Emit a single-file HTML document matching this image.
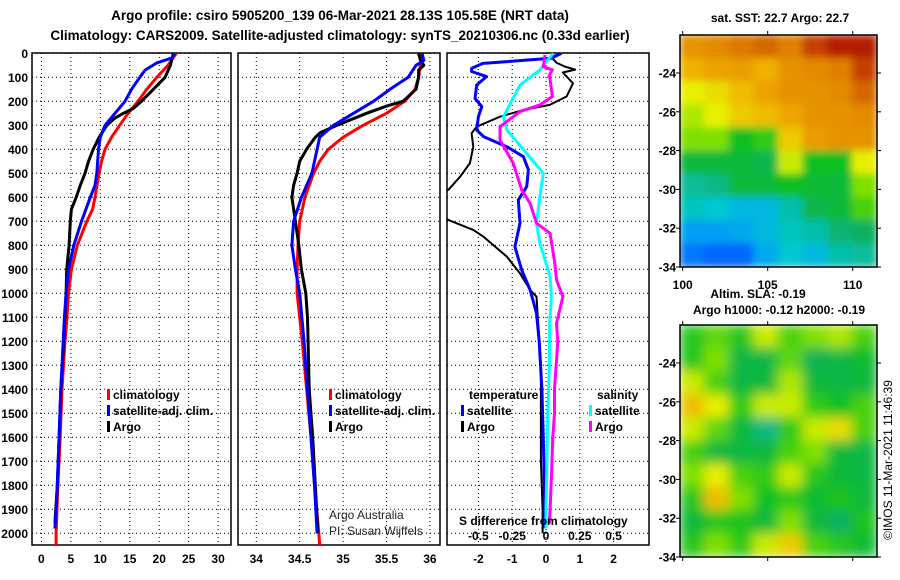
<!DOCTYPE html>
<html><head><meta charset="utf-8"><style>
html,body{margin:0;background:#fff;width:900px;height:580px;overflow:hidden}
svg{display:block;font-family:"Liberation Sans",sans-serif}
.b{font-weight:bold;font-size:12px}
</style></head><body>
<svg id="c" width="900" height="580" viewBox="0 0 900 580">
<defs>
<clipPath id="cp1"><rect x="32" y="53" width="199" height="492"/></clipPath>
<clipPath id="cp2"><rect x="238" y="53" width="202" height="492"/></clipPath>
<clipPath id="cp3"><rect x="447" y="53" width="202" height="492"/></clipPath>
<clipPath id="cm1"><rect x="680" y="35" width="197" height="232"/></clipPath>
<clipPath id="cm2"><rect x="680" y="325" width="197" height="232"/></clipPath>
<filter id="bl1" x="-10%" y="-10%" width="120%" height="120%"><feGaussianBlur stdDeviation="4" edgeMode="duplicate"/></filter>
<filter id="bl2" x="-10%" y="-10%" width="120%" height="120%"><feGaussianBlur stdDeviation="6" edgeMode="duplicate"/></filter>
</defs>
<text x="340" y="20" text-anchor="middle" font-weight="bold" font-size="13.5">Argo profile: csiro 5905200_139 06-Mar-2021 28.13S 105.58E (NRT data)</text>
<text x="340" y="40" text-anchor="middle" font-weight="bold" font-size="13.5">Climatology: CARS2009. Satellite-adjusted climatology: synTS_20210306.nc (0.33d earlier)</text>
</svg>
<script>
// ---------- data ----------
const depthTicks=[0,100,200,300,400,500,600,700,800,900,1000,1100,1200,1300,1400,1500,1600,1700,1800,1900,2000];
const tempTicks=[0,5,10,15,20,25,30];
const salTicks=[34,34.5,35,35.5,36];
const diffTicks=[-2,-1,0,1,2];
const diffTickLabels=['-2','-1','0','1','2'];
const sDiffTickLabels=['-0.5','-0.25','0','0.25','0.5'];
const tClimDepth=[0,50,100,150,200,250,300,350,400,450,500,600,650,700,800,900,1000,1100,1200,1400,1600,1800,2000,2050];
const tClim=[22.9,21.5,19.6,17.9,16.4,14.7,13.3,11.9,10.8,10.2,9.8,9.1,8.7,7.7,6.1,5.1,4.6,4.35,4.0,3.5,3.2,2.8,2.5,2.5];
const tSatDepth=[0,20,40,70,100,150,200,250,300,350,400,500,550,600,700,800,900,1000,1100,1200,1400,1600,1800,1950,1980];
const tSat=[22.7,22.1,19.6,17.6,16.7,15.3,14.2,12.5,10.8,10.0,9.7,9.4,9.1,8.3,6.8,5.5,4.6,4.2,3.9,3.7,3.3,3.0,2.7,2.4,2.3];
const tArgoDepth=[0,50,100,150,200,230,250,270,300,350,400,450,500,550,600,650,700,800,900,1000,1200,1400,1600,1800,1960];
const tArgo=[22.4,21.9,21.0,19.0,17.0,15.6,13.9,12.5,11.1,9.8,8.8,8.0,7.4,6.6,5.9,5.1,4.9,4.7,4.3,4.2,3.8,3.3,3.0,2.7,2.3];
const sClimDepth=[0,50,100,150,200,250,300,350,400,450,500,600,700,800,900,1000,1200,1400,1600,1800,2000,2050];
const sClim=[35.91,35.89,35.87,35.83,35.71,35.50,35.23,35.00,34.83,34.73,34.66,34.56,34.50,34.48,34.47,34.47,34.53,34.58,34.63,34.67,34.72,34.73];
const sSatDepth=[0,30,50,100,150,200,250,300,350,400,500,600,700,800,900,1000,1200,1400,1600,1800,2000];
const sSat=[35.91,35.93,35.84,35.75,35.54,35.35,35.12,34.89,34.73,34.70,34.64,34.52,34.43,34.41,34.45,34.50,34.55,34.59,34.63,34.67,34.70];
const sArgoDepth=[0,30,50,70,100,150,200,220,250,300,330,350,400,450,500,550,600,700,800,900,1000,1100,1400,1600,1800,2000];
const sArgo=[35.87,35.89,35.93,35.87,35.87,35.84,35.69,35.50,35.27,34.93,34.74,34.68,34.58,34.50,34.47,34.43,34.41,34.45,34.49,34.52,34.57,34.59,34.61,34.65,34.68,34.71];
const dTArgoDepth=[0,15,40,55,68,80,125,180,215,236,264,306,333,389,458,514,569,620,694,736,764,847,917,986,1014,1125,1300,1500,1700,1900,2000];
const dTArgo=[0.45,0.15,0.32,0.55,0.86,0.5,0.8,0.61,0.11,-0.67,-1.36,-2.05,-2.2,-2.15,-2.25,-2.54,-2.89,-3.6,-2.89,-2.15,-1.85,-1.16,-0.77,-0.47,-0.28,-0.23,-0.15,-0.15,-0.15,-0.1,-0.1];
const dTSatDepth=[0,21,42,63,76,97,132,188,222,264,319,347,389,431,486,556,611,708,806,903,986,1083,1200,1400,1600,1800,1980];
const dTSat=[0.46,0.15,-1.87,-2.2,-2.2,-1.76,-2.05,-2.1,-1.9,-2.0,-2.05,-1.85,-1.16,-0.67,-0.52,-0.57,-0.82,-0.77,-0.92,-0.72,-0.47,-0.28,-0.2,-0.12,-0.08,-0.05,-0.05];
const dSSatDepth=[0,21,69,132,264,319,417,500,597,708,792,931,1014,1125,1300,1500,1700,1900,1980];
const dSSat=[0.22,0.09,-0.18,-0.77,-1.26,-1.16,-0.57,-0.08,-0.18,-0.28,-0.18,0.12,0.16,0.11,0.1,0.05,0.03,0.0,0.0];
const dSArgoDepth=[7,56,69,90,180,215,243,306,361,458,569,625,708,750,875,944,1014,1125,1200,1400,1500,1600,1800,1900,1960];
const dSArgo=[-0.03,-0.08,0.19,0.1,0.19,-0.18,-0.77,-1.36,-1.36,-0.97,-0.72,-0.47,-0.28,0.12,0.26,0.31,0.5,0.31,0.35,0.25,0.25,0.2,0.15,0.12,0.1];
const latTicks=[-24,-26,-28,-30,-32,-34];
const lonTicks=[100,105,110];
const sstGrid=[
[0.78,0.8,0.83,0.85,0.82,0.9,0.95,0.95],
[0.72,0.75,0.76,0.72,0.78,0.8,0.82,0.9],
[0.62,0.65,0.7,0.75,0.78,0.78,0.8,0.85],
[0.58,0.62,0.68,0.7,0.74,0.78,0.78,0.8],
[0.55,0.55,0.45,0.48,0.68,0.76,0.78,0.78],
[0.42,0.42,0.42,0.4,0.6,0.45,0.45,0.62],
[0.35,0.36,0.42,0.42,0.45,0.43,0.42,0.55],
[0.33,0.32,0.3,0.3,0.34,0.4,0.42,0.5],
[0.27,0.27,0.28,0.3,0.33,0.34,0.37,0.38],
[0.22,0.2,0.2,0.28,0.32,0.3,0.34,0.35]];
const slaGrid=[
[0.47,0.52,0.47,0.6,0.5,0.55,0.58,0.5],
[0.47,0.55,0.41,0.41,0.52,0.39,0.41,0.43],
[0.6,0.5,0.41,0.42,0.58,0.42,0.41,0.42],
[0.7,0.62,0.48,0.6,0.6,0.48,0.45,0.5],
[0.6,0.52,0.42,0.36,0.48,0.6,0.65,0.5],
[0.5,0.42,0.41,0.42,0.5,0.55,0.42,0.41],
[0.55,0.62,0.5,0.48,0.6,0.47,0.42,0.41],
[0.47,0.7,0.55,0.45,0.48,0.43,0.46,0.42],
[0.42,0.47,0.46,0.42,0.55,0.42,0.38,0.46],
[0.47,0.55,0.48,0.6,0.68,0.5,0.47,0.43]];

// ---------- helpers ----------
const svg=document.getElementById('c');
const NS='http://www.w3.org/2000/svg';
function el(tag,attrs,parent){const e=document.createElementNS(NS,tag);for(const k in attrs)e.setAttribute(k,attrs[k]);(parent||svg).appendChild(e);return e;}
function txt(x,y,s,attrs){const e=el('text',Object.assign({x:x,y:y},attrs||{}));e.textContent=s;return e;}
const yD=d=>53.3+d*0.24;
const panels=[
 {l:32,r:231,x:v=>41.4+v*5.89,ticks:tempTicks,lab:tempTicks.map(String),clip:'cp1',name:'temperature'},
 {l:238,r:440,x:v=>256.3+(v-34)*86.8,ticks:salTicks,lab:salTicks.map(String),clip:'cp2',name:'salinity'},
 {l:447,r:649,x:v=>546+v*33.8,ticks:diffTicks,lab:diffTickLabels,clip:'cp3',name:'difference'}];
panels.forEach((p,i)=>{
 const g=el('g',{});
 
 
 depthTicks.forEach(d=>{const ln=el('line',{x1:p.l,x2:p.r,y1:yD(d),y2:yD(d),stroke:'#000','stroke-width':1,'stroke-dasharray':'1,3'},g);
  });
 p.ticks.forEach((v,k)=>{const ln=el('line',{x1:p.x(v),x2:p.x(v),y1:53,y2:545,stroke:'#000','stroke-width':1,'stroke-dasharray':'1,3'},g);
  
  const t=txt(p.x(v),563,p.lab[k],{class:'b','text-anchor':'middle'});
  });
 const r=el('rect',{x:p.l,y:53,width:p.r-p.l,height:492,fill:'none',stroke:'#000','stroke-width':1.5},g);
 
});
depthTicks.forEach(d=>{const t=txt(28,yD(d)+4.5,String(d),{class:'b','text-anchor':'end'});
 });
function line(p,depths,vals,color,w,name){
 const pts=depths.map((d,i)=>p.x(vals[i]).toFixed(1)+','+yD(d).toFixed(1)).join(' ');
 const e=el('polyline',{points:pts,fill:'none',stroke:color,'stroke-width':w,'stroke-linejoin':'round','clip-path':'url(#'+p.clip+')'});
 
 
}
line(panels[0],tClimDepth,tClim,'#f00',3,'temp-climatology-line');
line(panels[0],tArgoDepth,tArgo,'#000',3,'temp-argo-line');
line(panels[0],tSatDepth,tSat,'#00f',3,'temp-satellite-line');
line(panels[1],sClimDepth,sClim,'#f00',3,'sal-climatology-line');
line(panels[1],sArgoDepth,sArgo,'#000',3,'sal-argo-line');
line(panels[1],sSatDepth,sSat,'#00f',3,'sal-satellite-line');
line(panels[2],dTArgoDepth,dTArgo,'#000',2,'diff-temp-argo-line');
line(panels[2],dTSatDepth,dTSat,'#00f',3,'diff-temp-satellite-line');
line(panels[2],dSSatDepth,dSSat,'#0ff',3,'diff-sal-satellite-line');
line(panels[2],dSArgoDepth,dSArgo,'#f0f',3,'diff-sal-argo-line');

function legend(x,y,color,label){
 const m=el('rect',{x:x,y:y-10,width:3,height:11,fill:color});
 
 const t=txt(x+6,y,label,{class:'b'});
 
}
[[107,'#f00','climatology'],[107,'#00f','satellite-adj. clim.'],[107,'#000','Argo']].forEach((a,i)=>legend(a[0],399+i*16,a[1],a[2]));
[[329,'#f00','climatology'],[329,'#00f','satellite-adj. clim.'],[329,'#000','Argo']].forEach((a,i)=>legend(a[0],399+i*16,a[1],a[2]));
{const t=txt(469,399,'temperature',{class:'b'});}
{const t=txt(597,399,'salinity',{class:'b'});}
legend(461,415,'#00f','satellite');legend(461,431,'#000','Argo');
legend(589,415,'#0ff','satellite');legend(589,431,'#f0f','Argo');
{const t=txt(329,519,'Argo Australia',{'font-size':12,fill:'#222'});}
{const t=txt(329,535,'PI: Susan Wijffels',{'font-size':12,fill:'#222'});}
{const t=txt(459,525,'S difference from climatology',{class:'b'});}
diffTicks.forEach((v,k)=>{const t=txt(panels[2].x(v),540,sDiffTickLabels[k],{class:'b','text-anchor':'middle'});
 });

// ---------- maps ----------
const stops=[[0.15,[0,64,255]],[0.25,[0,144,255]],[0.32,[0,200,210]],[0.38,[16,176,96]],[0.45,[16,192,32]],[0.55,[128,224,0]],[0.62,[232,240,0]],[0.72,[240,176,0]],[0.82,[224,128,0]],[0.92,[192,48,0]],[1,[160,0,0]]];
function cmap(v){for(let i=1;i<stops.length;i++){if(v<=stops[i][0]){const a=stops[i-1],b=stops[i];const t=Math.max(0,(v-a[0])/(b[0]-a[0]));const c=a[1].map((q,k)=>Math.round(q+(b[1][k]-q)*t));return 'rgb('+c.join(',')+')';}}return 'rgb(160,0,0)';}
function map(top,grid,clip,filt,name){
 const L=680,W=197,H=232;
 const g=el('g',{'clip-path':'url(#'+clip+')'});
 
 
 const inner=el('g',{filter:'url(#'+filt+')'},g);
 const rows=grid.length,cols=grid[0].length,cw=W/cols,ch=H/rows;
 grid.forEach((row,r)=>row.forEach((v,c)=>{
  const cell=el('rect',{x:L+c*cw-0.5,y:top+r*ch-0.5,width:cw+1,height:ch+1,fill:cmap(v)},inner);
  
  
 }));
 const fr=el('rect',{x:L,y:top,width:W,height:H,fill:'none',stroke:'#000','stroke-width':1.5});
 
 latTicks.forEach(lat=>{
  const y=top+H-(lat+34)*19.4;
  el('line',{x1:L-4,x2:L,y1:y,y2:y,stroke:'#000'});el('line',{x1:L+W,x2:L+W+4,y1:y,y2:y,stroke:'#000'});
  const t=txt(676,y+4.5,String(lat),{class:'b','text-anchor':'end'});
  
 });
 lonTicks.forEach(lon=>{
  const x=682.7+(lon-100)*17;
  el('line',{x1:x,x2:x,y1:top-4,y2:top,stroke:'#000'});el('line',{x1:x,x2:x,y1:top+H,y2:top+H+4,stroke:'#000'});
 });
}
map(35,sstGrid,'cm1','bl1','sst-map');
map(325,slaGrid,'cm2','bl2','sla-map');
lonTicks.forEach(lon=>{const t=txt(682.7+(lon-100)*17,289,String(lon),{class:'b','text-anchor':'middle','font-size':13});
 });
{const t=txt(780,22,'sat. SST: 22.7 Argo: 22.7',{class:'b','text-anchor':'middle'});}
{const t=txt(758,298,'Altim. SLA: -0.19',{class:'b','text-anchor':'middle'});}
{const t=txt(779,314,'Argo h1000: -0.12 h2000: -0.19',{class:'b','text-anchor':'middle'});}
{const t=txt(0,0,'©IMOS 11-Mar-2021 11:46:39',{'font-size':12,'text-anchor':'middle',transform:'translate(892,460) rotate(-90)'});}
</script>
</body></html>
